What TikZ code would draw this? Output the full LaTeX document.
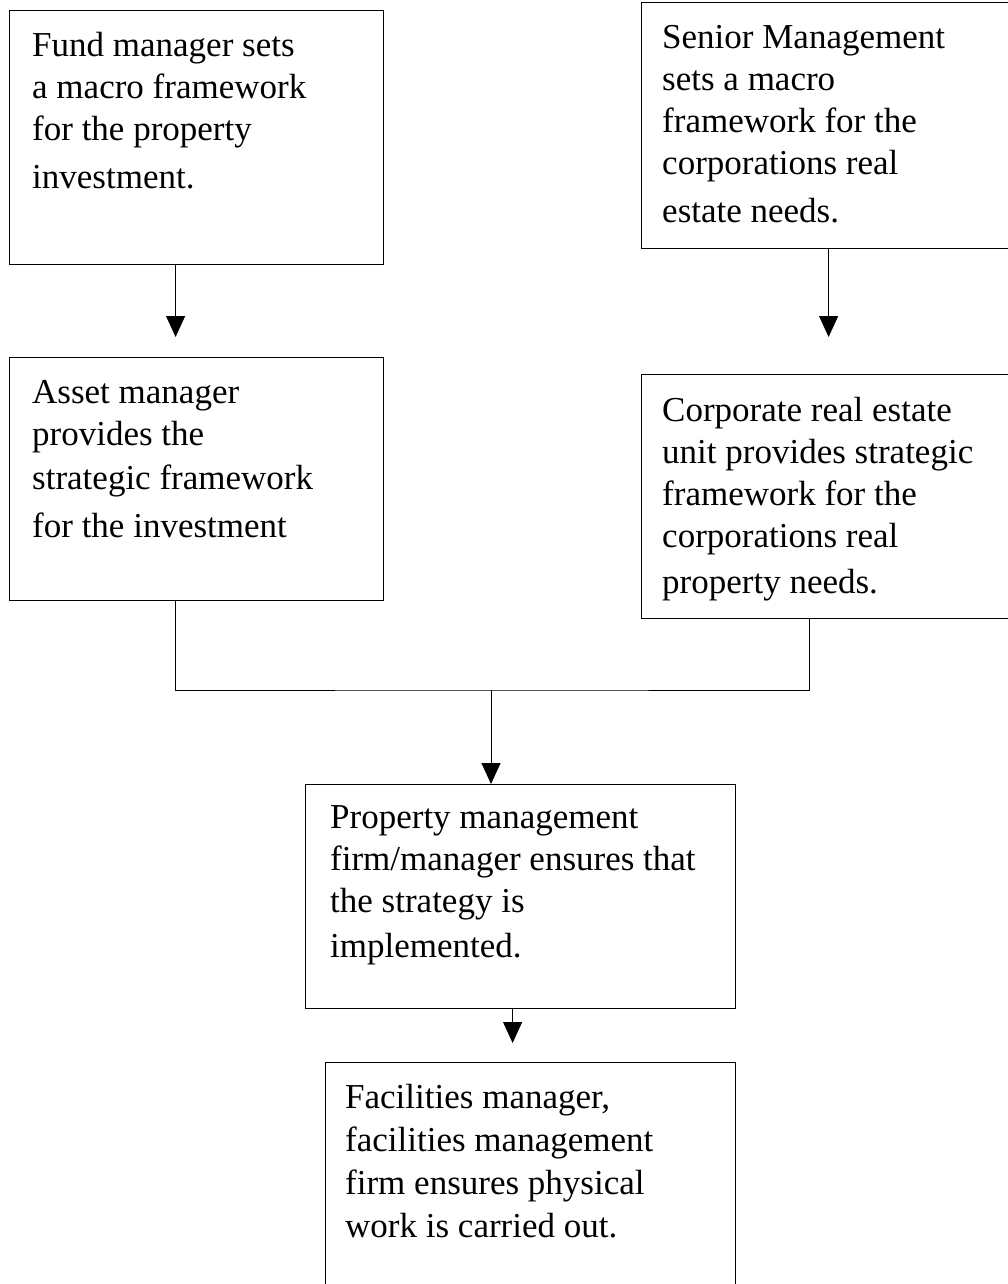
\documentclass[tikz,border=0pt]{standalone}
\usepackage{fontspec}
\setmainfont{Liberation Serif}
\usetikzlibrary{arrows.meta}
\tikzset{
  box/.style={draw, line width=1.2pt, inner sep=0pt, anchor=north west},
  txt/.style={inner sep=0pt, anchor=north west, align=left,
    font=\fontsize{35}{42}\selectfont},
  arr/.style={line width=1pt, -{Triangle[width=19pt,length=21pt]}},
  link/.style={line width=1pt}
}
\begin{document}
\begin{tikzpicture}[x=1pt,y=-1pt]
  \useasboundingbox (0,0) rectangle (1007,1284);
  \node[box, minimum width=374pt, minimum height=254pt] (fund) at (9,10) {};
  \node[box, minimum width=370pt, minimum height=246pt] (senior) at (641,2) {};
  \node[box, minimum width=374pt, minimum height=243pt] (asset) at (9,357) {};
  \node[box, minimum width=370pt, minimum height=244pt] (corp) at (641,374) {};
  \node[box, minimum width=430pt, minimum height=224pt] (prop) at (305,784) {};
  \node[box, minimum width=410pt, minimum height=230pt] (fac) at (325,1062) {};

  \node[txt] (fundtxt) at ([shift={(23,22)}]fund.north west)
    {Fund manager sets\\a macro framework\\for the property\\[6pt]investment.};
  \node[txt] (seniortxt) at ([shift={(21,23)}]senior.north west)
    {Senior Management\\sets a macro\\framework for the\\corporations real\\[6pt]estate needs.};
  \node[txt] (assettxt) at ([shift={(23,23)}]asset.north west)
    {Asset manager\\provides the\\[2pt]strategic framework\\[6pt]for the investment};
  \node[txt] (corptxt) at ([shift={(21,23)}]corp.north west)
    {Corporate real estate\\unit provides strategic\\framework for the\\corporations real\\[4pt]property needs.};
  \node[txt] (proptxt) at ([shift={(25,21)}]prop.north west)
    {Property management\\firm/manager ensures that\\the strategy is\\[3pt]implemented.};
  \node[txt] (factxt) at ([shift={(20,22)}]fac.north west)
    {Facilities manager,\\[1pt]facilities management\\[1pt]firm ensures physical\\[1pt]work is carried out.};

  \coordinate (join) at (491,690);
  \coordinate (propout) at ([xshift=-8pt]prop.south);
  \draw[arr, shorten >=20pt] ([xshift=-21pt]fund.south) -- ([xshift=-21pt]asset.north);
  \draw[arr, shorten >=37pt] ([xshift=2pt]senior.south) -- ([xshift=2pt]corp.north);
  \draw[link] ([xshift=-21pt]asset.south) |- (join) -| ([xshift=-17pt]corp.south);
  \draw[arr] (join) -- (prop.north -| join);
  \draw[arr, shorten >=19pt] (propout) -- (fac.north -| propout);
\end{tikzpicture}
\end{document}
